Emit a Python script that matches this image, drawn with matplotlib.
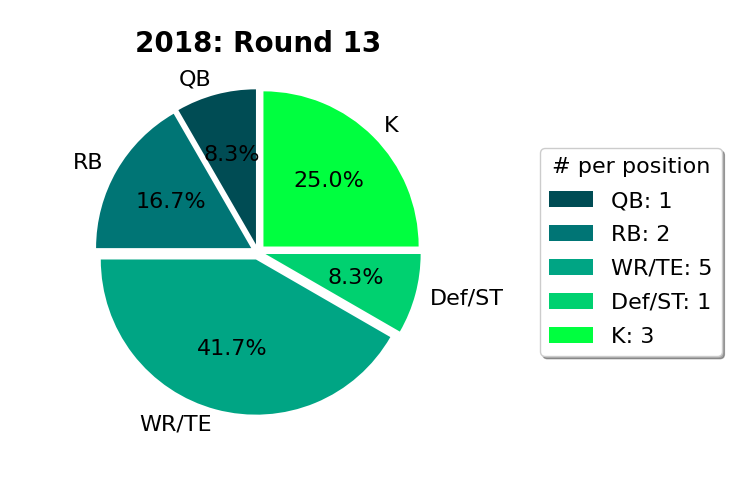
import matplotlib
matplotlib.use('Agg')
import matplotlib.pyplot as plt

# data
positions = ['QB', 'RB', 'WR/TE', 'Def/ST', 'K']
counts = [1, 2, 5, 1, 3]
colors = ['#004c54', '#007575', '#00a584', '#00d170', '#00ff3f']

fig = plt.figure(figsize=(7.46, 5.0), dpi=100)
ax = fig.add_axes([0.0858, 0.108, 0.520, 0.776])

wedges, texts, autotexts = ax.pie(counts, labels=positions, colors=colors,
                                  explode=[0.05] * len(counts), startangle=90,
                                  autopct='%1.1f%%', textprops={'fontsize': 16})
ax.set_xlim(-1.25, 1.25)
ax.set_ylim(-1.25, 1.25)
ax.set_aspect('equal')
ax.set_title('2018: Round 13', fontsize=20, fontweight='bold', pad=2)

leg_labels = [f'{p}: {c}' for p, c in zip(positions, counts)]
fig.legend(wedges, leg_labels, title='# per position', loc='center left',
           bbox_to_anchor=(529 / 746, 0.496), fontsize=16, title_fontsize=16,
           labelspacing=0.63, shadow=True, fancybox=True, framealpha=1)

plt.savefig('out.png', dpi=100)
plt.close()
